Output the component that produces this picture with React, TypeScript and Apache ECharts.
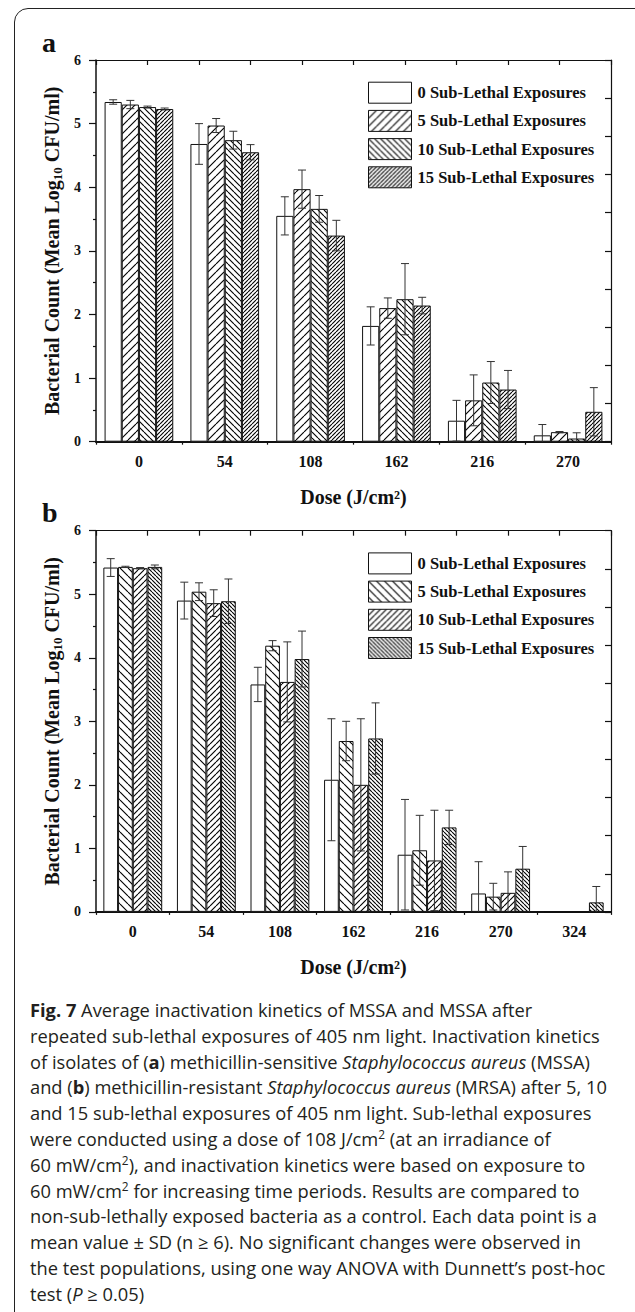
import React, { useEffect, useRef } from 'react';
import * as echarts from 'echarts';

// ---------- data ----------
const dosesA = ['0', '54', '108', '162', '216', '270'];
const dosesB = ['0', '54', '108', '162', '216', '270', '324'];
const exposureNames = [
  '0 Sub-Lethal Exposures',
  '5 Sub-Lethal Exposures',
  '10 Sub-Lethal Exposures',
  '15 Sub-Lethal Exposures',
];

// Panel a (MSSA): mean log10 CFU/ml and SD
const meanA0 = [5.34, 4.68, 3.55, 1.82, 0.33, 0.1];
const meanA5 = [5.3, 4.97, 3.97, 2.1, 0.65, 0.15];
const meanA10 = [5.26, 4.74, 3.66, 2.24, 0.93, 0.05];
const meanA15 = [5.23, 4.55, 3.24, 2.14, 0.82, 0.47];
const sdA0 = [0.035, 0.32, 0.3, 0.3, 0.32, 0.17];
const sdA5 = [0.065, 0.11, 0.3, 0.16, 0.4, 0.01];
const sdA10 = [0.015, 0.14, 0.21, 0.56, 0.33, 0.09];
const sdA15 = [0.015, 0.12, 0.24, 0.13, 0.3, 0.38];

// Panel b (MRSA)
const meanB0 = [5.42, 4.9, 3.58, 2.08, 0.9, 0.29, 0];
const meanB5 = [5.43, 5.04, 4.19, 2.69, 0.97, 0.24, 0];
const meanB10 = [5.41, 4.86, 3.62, 2.0, 0.81, 0.3, 0];
const meanB15 = [5.43, 4.89, 3.98, 2.73, 1.33, 0.68, 0.15];
const sdB0 = [0.14, 0.29, 0.27, 0.96, 0.87, 0.5, 0];
const sdB5 = [0.01, 0.14, 0.08, 0.31, 0.55, 0.21, 0];
const sdB10 = [0.01, 0.21, 0.63, 1.04, 0.79, 0.33, 0];
const sdB15 = [0.03, 0.35, 0.44, 0.56, 0.27, 0.35, 0.25];

const yTicks = [0, 1, 2, 3, 4, 5, 6];

// ---------- styling ----------
const SERIF = '"Liberation Serif", "Times New Roman", serif';
const INK = '#111';

function hatch(period: number, dir: number) {
  const k = 4;
  const s = period * k;
  const c = document.createElement('canvas');
  c.width = s;
  c.height = s;
  const ctx = c.getContext('2d') as CanvasRenderingContext2D;
  ctx.fillStyle = '#fff';
  ctx.fillRect(0, 0, s, s);
  ctx.strokeStyle = '#000';
  ctx.lineWidth = 1.1 * k;
  ctx.beginPath();
  for (const o of [-s, 0, s]) {
    if (dir > 0) {
      ctx.moveTo(o, s);
      ctx.lineTo(o + s, 0);
    } else {
      ctx.moveTo(o, 0);
      ctx.lineTo(o + s, s);
    }
  }
  ctx.stroke();
  return { image: c, repeat: 'repeat', imageWidth: period, imageHeight: period } as any;
}

const GRID_A = { left: 96, top: 60, width: 515, height: 381.7 };
const GRID_B = { left: 96, top: 530.7, width: 515, height: 381.2 };

function buildPanel(
  prefix: string,
  gridIndex: number,
  doses: string[],
  means: number[][],
  sds: number[][],
  fills: any[],
  grid: { left: number; top: number; width: number; height: number }
) {
  const xBase = gridIndex * 3;
  const yBase = gridIndex * 2;
  const xAxes = [
    {
      type: 'category',
      gridIndex,
      position: 'bottom',
      data: doses,
      axisLine: { lineStyle: { color: INK, width: 2 } },
      axisTick: { alignWithLabel: true, length: 7, lineStyle: { color: INK, width: 1.2 } },
      axisLabel: {
        color: INK,
        fontFamily: SERIF,
        fontWeight: 'bold',
        fontSize: 16,
        margin: 12,
      },
      splitLine: { show: false },
    },
    {
      type: 'value',
      gridIndex,
      position: 'bottom',
      min: 0,
      max: doses.length,
      interval: 1,
      axisLine: { show: false },
      axisTick: { show: true, length: 3, lineStyle: { color: INK, width: 1.2 } },
      axisLabel: { show: false },
      splitLine: { show: false },
    },
    {
      type: 'value',
      gridIndex,
      position: 'top',
      min: 0,
      max: 10,
      interval: 1,
      axisLine: { show: true, onZero: false, lineStyle: { color: INK, width: 1.2 } },
      axisTick: { show: true, inside: true, length: 5, lineStyle: { color: INK, width: 1.2 } },
      axisLabel: { show: false },
      splitLine: { show: false },
    },
  ];
  const yAxes = [
    {
      type: 'value',
      gridIndex,
      position: 'left',
      min: yTicks[0],
      max: yTicks[yTicks.length - 1],
      interval: 1,
      axisLine: { show: true, onZero: false, lineStyle: { color: INK, width: 1.5 } },
      axisTick: { show: true, length: 7, lineStyle: { color: INK, width: 1.2 } },
      minorTick: { show: true, splitNumber: 2, length: 3, lineStyle: { color: INK, width: 1.2 } },
      axisLabel: {
        color: INK,
        fontFamily: SERIF,
        fontWeight: 'bold',
        fontSize: 14,
        margin: 15,
      },
      splitLine: { show: false },
      minorSplitLine: { show: false },
    },
    {
      type: 'value',
      gridIndex,
      position: 'right',
      min: 0,
      max: 10,
      interval: 1,
      axisLine: { show: true, onZero: false, lineStyle: { color: INK, width: 1.2 } },
      axisTick: { show: true, inside: true, length: 6, lineStyle: { color: INK, width: 1.2 } },
      axisLabel: { show: false },
      splitLine: { show: false },
    },
  ];

  const bars = means.map((m, i) => ({
    type: 'bar',
    name: prefix + exposureNames[i],
    xAxisIndex: xBase,
    yAxisIndex: yBase,
    data: m,
    barWidth: '20%',
    barGap: '0%',
    itemStyle: { color: fills[i], borderColor: INK, borderWidth: 1 },
    emphasis: { disabled: true },
  }));

  const errData: number[][] = [];
  means.forEach((m, si) => {
    m.forEach((v, ci) => {
      if (sds[si][ci] > 0) errData.push([ci, v, sds[si][ci], si]);
    });
  });

  const errSeries = {
    type: 'custom',
    name: prefix + 'err',
    xAxisIndex: xBase,
    yAxisIndex: yBase,
    z: 5,
    clip: false,
    data: errData,
    encode: { x: 0, y: 1 },
    renderItem: (params: any, api: any) => {
      const ci = api.value(0);
      const mean = api.value(1);
      const sd = api.value(2);
      const si = api.value(3);
      const band = api.size([1, 0])[0];
      const bw = band * 0.2;
      const x = api.coord([ci, 0])[0] + (si - 1.5) * bw;
      const lowV = mean - sd;
      const hi = api.coord([ci, mean + sd])[1];
      const lo = api.coord([ci, Math.max(0, lowV)])[1];
      const cap = 4;
      const st = { stroke: '#333', lineWidth: 1 };
      const children: any[] = [
        { type: 'line', shape: { x1: x, y1: hi, x2: x, y2: lo }, style: st },
        { type: 'line', shape: { x1: x - cap, y1: hi, x2: x + cap, y2: hi }, style: st },
      ];
      if (lowV > 0) {
        children.push({ type: 'line', shape: { x1: x - cap, y1: lo, x2: x + cap, y2: lo }, style: st });
      }
      return { type: 'group', children };
    },
  };

  const legend = {
    orient: 'vertical',
    left: 368,
    top: grid.top + 21.7,
    itemWidth: 43,
    itemHeight: 21,
    itemGap: 6.2,
    padding: 0,
    icon: 'rect',
    selectedMode: false,
    data: exposureNames.map((n) => prefix + n),
    formatter: (name: string) => name.slice(prefix.length),
    itemStyle: { borderColor: INK, borderWidth: 1 },
    textStyle: { color: INK, fontFamily: SERIF, fontWeight: 'bold', fontSize: 16.5, padding: [0, 0, 0, 1] },
  };

  return { xAxes, yAxes, series: [...bars, errSeries], legend };
}

function titleGraphics(grid: { left: number; top: number; width: number; height: number }, letter: string) {
  const bottom = grid.top + grid.height;
  return [
    {
      type: 'text',
      x: 42,
      y: grid.top - 17.8,
      style: {
        text: letter,
        font: `bold 28px ${SERIF}`,
        fill: INK,
        textAlign: 'left',
        textVerticalAlign: 'middle',
      },
    },
    {
      type: 'text',
      x: 51.5,
      y: grid.top + grid.height / 2,
      rotation: Math.PI / 2,
      style: {
        text: '{m|Bacterial Count (Mean Log}{s|10}{m| CFU/ml)}',
        textAlign: 'center',
        textVerticalAlign: 'middle',
        fill: INK,
        rich: {
          m: { fontFamily: SERIF, fontWeight: 'bold', fontSize: 20, fill: INK, lineHeight: 24 },
          s: {
            fontFamily: SERIF,
            fontWeight: 'bold',
            fontSize: 13,
            fill: INK,
            verticalAlign: 'bottom',
            padding: [0, 0, 0, 0],
          },
        },
      },
    },
    {
      type: 'text',
      x: grid.left + grid.width / 2,
      y: bottom + 55.5,
      style: {
        text: 'Dose (J/cm\u00B2)',
        font: `bold 20px ${SERIF}`,
        fill: INK,
        textAlign: 'center',
        textVerticalAlign: 'middle',
      },
    },
  ];
}

const supStyle: React.CSSProperties = { fontSize: '0.65em', lineHeight: 0, verticalAlign: '0.55em' };
const Sup = ({ children }: { children: React.ReactNode }) => <span style={supStyle}>{children}</span>;

const captionLines: React.ReactNode[] = [
  <>
    <b>Fig. 7</b> Average inactivation kinetics of MSSA and MSSA after
  </>,
  <>repeated sub-lethal exposures of 405 nm light. Inactivation kinetics</>,
  <>
    of isolates of (<b>a</b>) methicillin-sensitive <i>Staphylococcus aureus</i> (MSSA)
  </>,
  <>
    and (<b>b</b>) methicillin-resistant <i>Staphylococcus aureus</i> (MRSA) after 5, 10
  </>,
  <>and 15 sub-lethal exposures of 405 nm light. Sub-lethal exposures</>,
  <>
    were conducted using a dose of 108 J/cm<Sup>2</Sup> (at an irradiance of
  </>,
  <>
    60 mW/cm<Sup>2</Sup>), and inactivation kinetics were based on exposure to
  </>,
  <>
    60 mW/cm<Sup>2</Sup> for increasing time periods. Results are compared to
  </>,
  <>non-sub-lethally exposed bacteria as a control. Each data point is a</>,
  <>mean value ± SD (n ≥ 6). No significant changes were observed in</>,
  <>the test populations, using one way ANOVA with Dunnett’s post-hoc</>,
  <>
    test (<i>P</i> ≥ 0.05)
  </>,
];

export default function App() {
  const ref = useRef<HTMLDivElement>(null);

  useEffect(() => {
    if (!ref.current) return;
    const chart = echarts.init(ref.current, undefined, { renderer: 'svg' });

    const fillsA = ['#fff', hatch(8, 1), hatch(6, -1), hatch(4, 1)];
    const fillsB = ['#fff', hatch(8, -1), hatch(6, 1), hatch(4, -1)];

    const pa = buildPanel('a:', 0, dosesA, [meanA0, meanA5, meanA10, meanA15], [sdA0, sdA5, sdA10, sdA15], fillsA, GRID_A);
    const pb = buildPanel('b:', 1, dosesB, [meanB0, meanB5, meanB10, meanB15], [sdB0, sdB5, sdB10, sdB15], fillsB, GRID_B);

    chart.setOption({
      animation: false,
      backgroundColor: 'transparent',
      grid: [
        { ...GRID_A, containLabel: false },
        { ...GRID_B, containLabel: false },
      ],
      xAxis: [...pa.xAxes, ...pb.xAxes],
      yAxis: [...pa.yAxes, ...pb.yAxes],
      legend: [pa.legend, pb.legend],
      series: [...pa.series, ...pb.series],
      graphic: [...titleGraphics(GRID_A, 'a'), ...titleGraphics(GRID_B, 'b')],
    } as any);

    return () => chart.dispose();
  }, []);

  return (
    <div
      style={{
        position: 'absolute',
        left: 0,
        top: 0,
        width: 635,
        height: 1312,
        overflow: 'hidden',
        background: '#fff',
      }}
    >
      <div
        style={{
          position: 'absolute',
          left: 14,
          top: 8,
          width: 800,
          height: 1500,
          border: '1.5px solid #222',
          borderRadius: 14,
          boxSizing: 'border-box',
        }}
      />
      <div ref={ref} style={{ position: 'absolute', left: 0, top: 0, width: 635, height: 1312 }} />
      <div
        style={{
          position: 'absolute',
          left: 30,
          top: 997,
          fontFamily: '"Open Sans", "Noto Sans", sans-serif',
          fontSize: 18.3,
          lineHeight: '25.8px',
          color: '#231f20',
          whiteSpace: 'nowrap',
        }}
      >
        {captionLines.map((l, i) => (
          <div key={i} style={{ height: 25.8, lineHeight: '25.8px' }}>
            {l}
          </div>
        ))}
      </div>
    </div>
  );
}
